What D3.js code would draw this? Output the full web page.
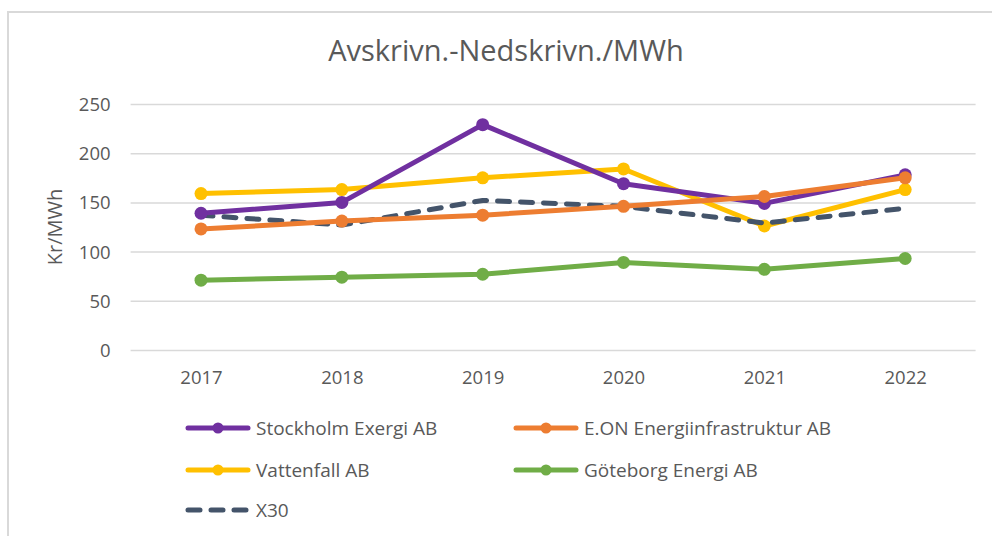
<!DOCTYPE html>
<html>
<head>
<meta charset="utf-8">
<script src="https://cdn.jsdelivr.net/npm/d3@7"></script>
<style>
  html, body { margin: 0; padding: 0; background: #fff; }
  svg { display: block; font-family: "Open Sans", "Noto Sans", sans-serif; }
</style>
</head>
<body>
<svg id="chart" width="992" height="536"></svg>
<script>
const title = "Avskrivn.-Nedskrivn./MWh";
const yAxisTitle = "Kr/MWh";
const years = ["2017", "2018", "2019", "2020", "2021", "2022"];
const yTicks = [0, 50, 100, 150, 200, 250];

const seriesNames = ["Stockholm Exergi AB", "E.ON Energiinfrastruktur AB", "Vattenfall AB", "Göteborg Energi AB", "X30"];
const stockholm = [139, 150, 229, 169, 149, 178];
const eon = [123, 131, 137, 146, 156, 175];
const vattenfall = [159, 163, 175, 184, 126, 163];
const goteborg = [71, 74, 77, 89, 82, 93];
const x30 = [137, 127, 152, 146, 129, 144];

const colors = ["#7030A0", "#ED7D31", "#FFC000", "#70AD47", "#44546A"];

const series = [
  { name: seriesNames[0], values: stockholm, color: colors[0], dashed: false },
  { name: seriesNames[1], values: eon, color: colors[1], dashed: false },
  { name: seriesNames[2], values: vattenfall, color: colors[2], dashed: false },
  { name: seriesNames[3], values: goteborg, color: colors[3], dashed: false },
  { name: seriesNames[4], values: x30, color: colors[4], dashed: true }
];
// drawing order (later on top)
const drawOrder = [3, 2, 4, 0, 1];

const svg = d3.select("#chart");
const textColor = "#595959";

// chart frame
svg.append("rect").attr("x", 8).attr("y", 12).attr("width", 1000).attr("height", 600)
  .attr("fill", "#fff").attr("stroke", "#d9d9d9").attr("stroke-width", 2);

const plotLeft = 130.6, plotRight = 975.6, plotTop = 104, plotBottom = 350;

const x = d3.scalePoint().domain(years).range([plotLeft, plotRight]).padding(0.5);
const y = d3.scaleLinear().domain([0, 250]).range([plotBottom, plotTop]);

// title (font size fitted to the reference width)
const titleEl = svg.append("text").attr("x", 506).attr("y", 61).attr("text-anchor", "middle")
  .attr("font-size", 24).attr("fill", textColor).text(title);
const w = titleEl.node().getComputedTextLength();
if (w > 0) titleEl.attr("font-size", Math.min(29, 24 * 366 / w));

// gridlines + y axis
const yAxis = d3.axisLeft(y).tickValues(yTicks).tickSize(-(plotRight - plotLeft)).tickPadding(20);
const gy = svg.append("g").attr("transform", `translate(${plotLeft},0)`).call(yAxis);
gy.select(".domain").remove();
gy.selectAll(".tick line").attr("stroke", "#d9d9d9").attr("stroke-width", 1.5);
gy.selectAll(".tick text").attr("font-size", 18.5).attr("fill", textColor)
  .attr("font-family", "Open Sans, sans-serif").attr("dy", "0.35em");

// x axis
const xAxis = d3.axisBottom(x).tickSize(0).tickPadding(21);
const gx = svg.append("g").attr("transform", `translate(0,${plotBottom})`).call(xAxis);
gx.select(".domain").remove();
gx.selectAll(".tick text").attr("font-size", 18.5).attr("fill", textColor)
  .attr("font-family", "Open Sans, sans-serif");

// y axis title
svg.append("text").attr("transform", "translate(62,227) rotate(-90)").attr("text-anchor", "middle")
  .attr("font-size", 20).attr("fill", textColor).text(yAxisTitle);

const line = d3.line().x((d, i) => x(years[i])).y(d => y(d));

drawOrder.forEach(k => {
  const s = series[k];
  const g = svg.append("g");
  g.append("path").datum(s.values).attr("d", line).attr("fill", "none")
    .attr("stroke", s.color).attr("stroke-width", 5)
    .attr("stroke-linejoin", "round").attr("stroke-linecap", "round")
    .attr("stroke-dasharray", s.dashed ? "12,11" : null);
  if (!s.dashed) {
    g.selectAll("circle").data(s.values).join("circle")
      .attr("cx", (d, i) => x(years[i])).attr("cy", d => y(d)).attr("r", 6.5)
      .attr("fill", s.color);
  }
});

// legend
const legendPos = [
  { x: 186, y: 428 }, { x: 514, y: 428 },
  { x: 186, y: 470 }, { x: 514, y: 470 },
  { x: 186, y: 510 }
];
series.forEach((s, k) => {
  const p = legendPos[k];
  const g = svg.append("g").attr("transform", `translate(${p.x},${p.y})`);
  g.append("line").attr("x1", 2).attr("x2", 62).attr("y1", 0).attr("y2", 0)
    .attr("stroke", s.color).attr("stroke-width", 5).attr("stroke-linecap", "round")
    .attr("stroke-dasharray", s.dashed ? "12,11" : null);
  if (!s.dashed) {
    g.append("circle").attr("cx", 32).attr("cy", 0).attr("r", 5.5).attr("fill", s.color);
  }
  g.append("text").attr("x", 70).attr("y", 0).attr("dy", "0.35em")
    .attr("font-size", 19).attr("fill", textColor).text(s.name);
});
</script>
</body>
</html>
